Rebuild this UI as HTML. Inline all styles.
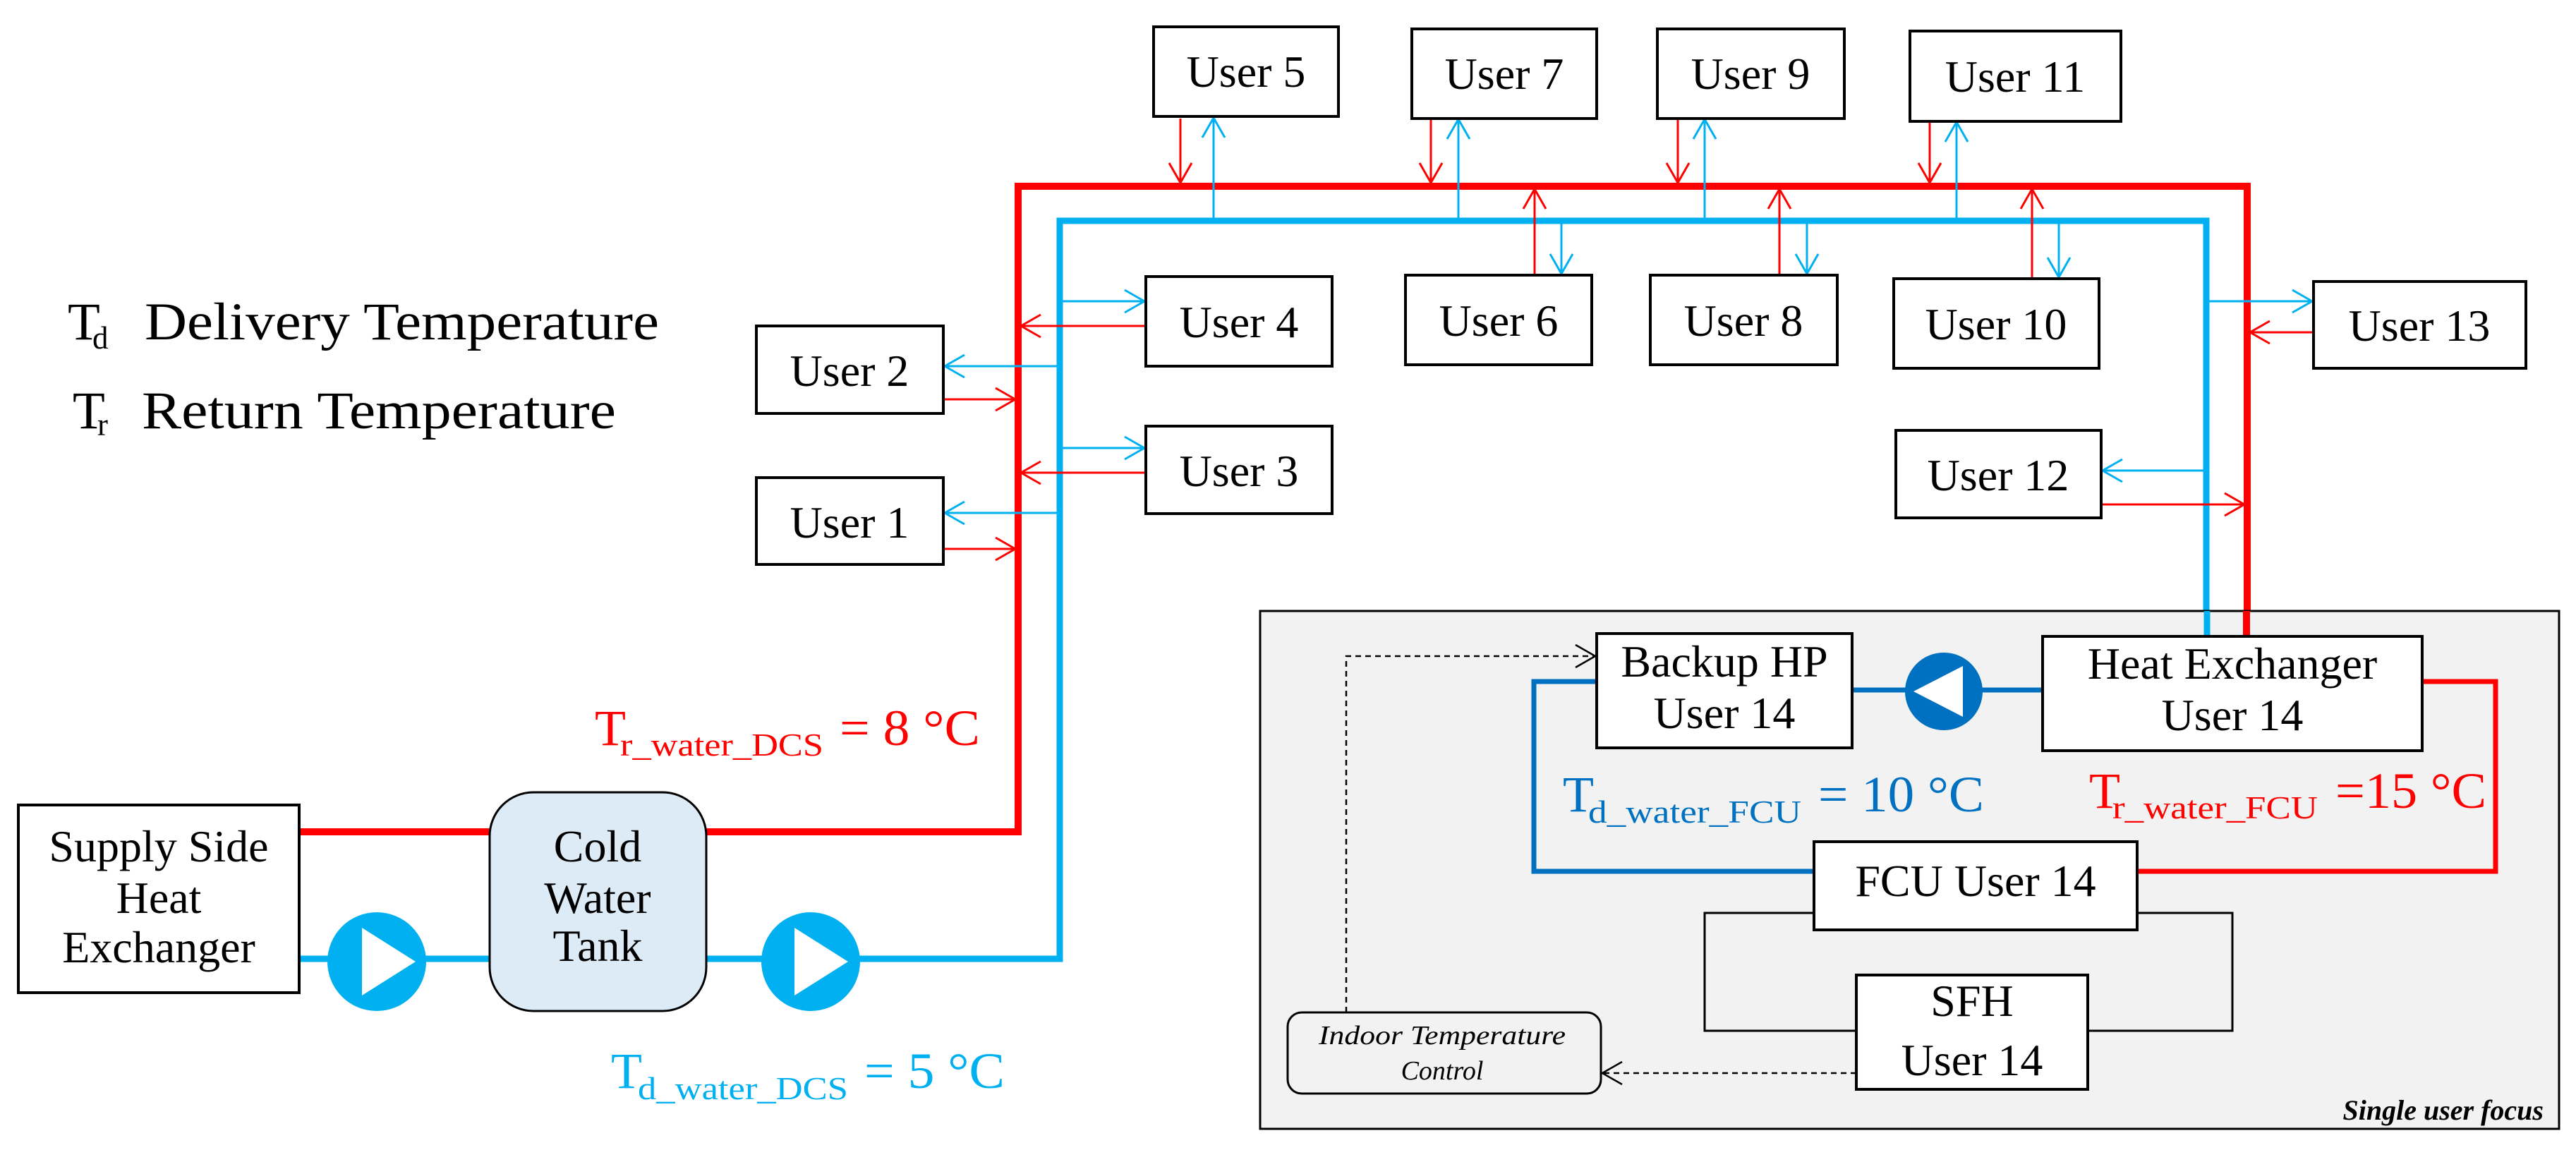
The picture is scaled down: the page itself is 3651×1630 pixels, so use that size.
<!DOCTYPE html>
<html><head><meta charset="utf-8"><style>
html,body{margin:0;padding:0;background:#fff}
svg{display:block}
text{font-family:"Liberation Serif",serif}
.bx{fill:#fff;stroke:#000;stroke-width:4}
.t{font-size:64px;text-anchor:middle;fill:#000}
</style></head><body>
<svg width="3651" height="1630" viewBox="0 0 3651 1630" xmlns="http://www.w3.org/2000/svg">
<defs>
<marker id="ar" markerUnits="userSpaceOnUse" markerWidth="32" markerHeight="36" viewBox="0 0 32 36" refX="29" refY="18" orient="auto"><path d="M1,2 L29,18 L1,34" fill="none" stroke="#ff0000" stroke-width="3"/></marker>
<marker id="ab" markerUnits="userSpaceOnUse" markerWidth="32" markerHeight="36" viewBox="0 0 32 36" refX="29" refY="18" orient="auto"><path d="M1,2 L29,18 L1,34" fill="none" stroke="#00b0f0" stroke-width="3"/></marker>
<marker id="ak" markerUnits="userSpaceOnUse" markerWidth="32" markerHeight="36" viewBox="0 0 32 36" refX="29" refY="18" orient="auto"><path d="M1,2 L29,18 L1,34" fill="none" stroke="#000" stroke-width="2.5"/></marker>
</defs>

<!-- legend -->
<text x="96" y="481" font-size="75">T</text><text x="131" y="494" font-size="45">d</text>
<text x="205" y="481" font-size="75" textLength="729" lengthAdjust="spacingAndGlyphs">Delivery Temperature</text>
<text x="103" y="607" font-size="75">T</text><text x="138" y="617" font-size="45">r</text>
<text x="201" y="607" font-size="75" textLength="672" lengthAdjust="spacingAndGlyphs">Return Temperature</text>

<!-- main pipes -->
<path d="M424,1179 H694 M1001,1179 H1443 V264 H3185 V902" fill="none" stroke="#ff0000" stroke-width="10"/>
<path d="M424,1359 H694 M1001,1359 H1502 V313 H3127 V902" fill="none" stroke="#00b0f0" stroke-width="9"/>

<!-- connectors -->
<g fill="none" stroke-width="3">
<path d="M1502,427 H1622" stroke="#00b0f0" marker-end="url(#ab)"/>
<path d="M1624,462 H1447" stroke="#ff0000" marker-end="url(#ar)"/>
<path d="M1502,635 H1622" stroke="#00b0f0" marker-end="url(#ab)"/>
<path d="M1624,670 H1447" stroke="#ff0000" marker-end="url(#ar)"/>
<path d="M1502,519 H1339" stroke="#00b0f0" marker-end="url(#ab)"/>
<path d="M1337,566 H1439" stroke="#ff0000" marker-end="url(#ar)"/>
<path d="M1502,727 H1339" stroke="#00b0f0" marker-end="url(#ab)"/>
<path d="M1337,778 H1439" stroke="#ff0000" marker-end="url(#ar)"/>

<path d="M1673,168 V259" stroke="#ff0000" marker-end="url(#ar)"/>
<path d="M1720,310 V167" stroke="#00b0f0" marker-end="url(#ab)"/>
<path d="M2028,170 V259" stroke="#ff0000" marker-end="url(#ar)"/>
<path d="M2067,310 V169" stroke="#00b0f0" marker-end="url(#ab)"/>
<path d="M2378,170 V259" stroke="#ff0000" marker-end="url(#ar)"/>
<path d="M2416,310 V169" stroke="#00b0f0" marker-end="url(#ab)"/>
<path d="M2735,174 V259" stroke="#ff0000" marker-end="url(#ar)"/>
<path d="M2773,310 V173" stroke="#00b0f0" marker-end="url(#ab)"/>

<path d="M2175,390 V268" stroke="#ff0000" marker-end="url(#ar)"/>
<path d="M2213,317 V388" stroke="#00b0f0" marker-end="url(#ab)"/>
<path d="M2522,390 V268" stroke="#ff0000" marker-end="url(#ar)"/>
<path d="M2561,317 V388" stroke="#00b0f0" marker-end="url(#ab)"/>
<path d="M2880,394 V268" stroke="#ff0000" marker-end="url(#ar)"/>
<path d="M2918,317 V393" stroke="#00b0f0" marker-end="url(#ab)"/>

<path d="M3127,427 H3277" stroke="#00b0f0" marker-end="url(#ab)"/>
<path d="M3279,471 H3189" stroke="#ff0000" marker-end="url(#ar)"/>
<path d="M3127,667 H2980" stroke="#00b0f0" marker-end="url(#ab)"/>
<path d="M2978,715 H3181" stroke="#ff0000" marker-end="url(#ar)"/>
</g>

<!-- user boxes -->
<rect class="bx" x="1635" y="38" width="262" height="127"/><text class="t" x="1766" y="123">User 5</text>
<rect class="bx" x="2001" y="41" width="262" height="127"/><text class="t" x="2132" y="126">User 7</text>
<rect class="bx" x="2349" y="41" width="265" height="127"/><text class="t" x="2481" y="126">User 9</text>
<rect class="bx" x="2707" y="44" width="299" height="128"/><text class="t" x="2856" y="130">User 11</text>
<rect class="bx" x="1624" y="392" width="264" height="127"/><text class="t" x="1756" y="478">User 4</text>
<rect class="bx" x="1624" y="604" width="264" height="124"/><text class="t" x="1756" y="689">User 3</text>
<rect class="bx" x="1072" y="462" width="265" height="124"/><text class="t" x="1204" y="547">User 2</text>
<rect class="bx" x="1072" y="677" width="265" height="123"/><text class="t" x="1204" y="762">User 1</text>
<rect class="bx" x="1992" y="390" width="264" height="127"/><text class="t" x="2124" y="476">User 6</text>
<rect class="bx" x="2339" y="390" width="265" height="127"/><text class="t" x="2471" y="476">User 8</text>
<rect class="bx" x="2684" y="395" width="291" height="127"/><text class="t" x="2829" y="481">User 10</text>
<rect class="bx" x="3279" y="399" width="301" height="123"/><text class="t" x="3429" y="483">User 13</text>
<rect class="bx" x="2687" y="610" width="291" height="124"/><text class="t" x="2832" y="695">User 12</text>

<!-- supply side -->
<rect class="bx" x="26" y="1141" width="398" height="266"/>
<text class="t" x="225" y="1221" font-size="60">Supply Side</text>
<text class="t" x="225" y="1294" font-size="60">Heat</text>
<text class="t" x="225" y="1364" font-size="60">Exchanger</text>
<rect x="694" y="1123" width="307" height="310" rx="62" ry="62" fill="#ddebf7" stroke="#000" stroke-width="3"/>
<text class="t" x="847" y="1221" font-size="60">Cold</text>
<text class="t" x="847" y="1294" font-size="60">Water</text>
<text class="t" x="847" y="1362" font-size="60">Tank</text>
<circle cx="534" cy="1363" r="70" fill="#00b0f0"/><path d="M513,1315 L513,1411 L589,1363 Z" fill="#fff"/>
<circle cx="1149" cy="1363" r="70" fill="#00b0f0"/><path d="M1126,1315 L1126,1411 L1202,1363 Z" fill="#fff"/>

<text x="843" y="1056" font-size="72" fill="#ff0000">T</text>
<text x="879" y="1071" font-size="46" fill="#ff0000" textLength="288" lengthAdjust="spacingAndGlyphs">r_water_DCS</text>
<text x="1190" y="1056" font-size="72" fill="#ff0000" textLength="199" lengthAdjust="spacingAndGlyphs">= 8 °C</text>
<text x="866" y="1542" font-size="72" fill="#00b0f0">T</text>
<text x="904" y="1558" font-size="46" fill="#00b0f0" textLength="298" lengthAdjust="spacingAndGlyphs">d_water_DCS</text>
<text x="1225" y="1542" font-size="72" fill="#00b0f0" textLength="199" lengthAdjust="spacingAndGlyphs">= 5 °C</text>

<!-- single user focus -->
<rect x="1786" y="866" width="1841" height="734" fill="#f2f2f2" stroke="#000" stroke-width="3"/>
<path d="M3128,866 V902" stroke="#00b0f0" stroke-width="9"/>
<path d="M3184,866 V902" stroke="#ff0000" stroke-width="10"/>
<path d="M2263,966 H2174 V1235 H2571 M2625,978 H2895" fill="none" stroke="#0070c0" stroke-width="7"/>
<path d="M3433,966 H3537 V1235 H3029" fill="none" stroke="#ff0000" stroke-width="7"/>
<path d="M2571,1294 H2416 V1461 H2631 M3029,1294 H3164 V1461 H2959" fill="none" stroke="#000" stroke-width="3"/>
<circle cx="2755" cy="980" r="55" fill="#0070c0"/><path d="M2712,980 L2782,944 L2782,1016 Z" fill="#fff"/>
<rect class="bx" x="2263" y="898" width="362" height="162"/>
<text class="t" x="2444" y="959" font-size="60">Backup HP</text><text class="t" x="2444" y="1032" font-size="60">User 14</text>
<rect class="bx" x="2895" y="902" width="538" height="162"/>
<text class="t" x="3164" y="962" font-size="60">Heat Exchanger</text><text class="t" x="3164" y="1035" font-size="60">User 14</text>
<rect class="bx" x="2571" y="1193" width="458" height="125"/>
<text class="t" x="2800" y="1270" font-size="60">FCU User 14</text>
<rect class="bx" x="2631" y="1382" width="328" height="162"/>
<text class="t" x="2795" y="1440" font-size="60">SFH</text><text class="t" x="2795" y="1524" font-size="60">User 14</text>
<rect x="1825" y="1435" width="444" height="115" rx="20" ry="20" fill="#f2f2f2" stroke="#000" stroke-width="3"/>
<text x="1869" y="1480" font-size="38" font-style="italic" textLength="350" lengthAdjust="spacingAndGlyphs">Indoor Temperature</text>
<text x="2044" y="1530" font-size="38" font-style="italic" text-anchor="middle">Control</text>
<path d="M1908,1435 V930 H2261" fill="none" stroke="#000" stroke-width="2.5" stroke-dasharray="8,6" marker-end="url(#ak)"/>
<path d="M2631,1521 H2271" fill="none" stroke="#000" stroke-width="2.5" stroke-dasharray="8,6" marker-end="url(#ak)"/>
<text x="3605" y="1587" font-size="40" font-style="italic" font-weight="bold" text-anchor="end">Single user focus</text>

<text x="2215" y="1150" font-size="72" fill="#0070c0">T</text>
<text x="2251" y="1166" font-size="46" fill="#0070c0" textLength="302" lengthAdjust="spacingAndGlyphs">d_water_FCU</text>
<text x="2577" y="1150" font-size="72" fill="#0070c0" textLength="235" lengthAdjust="spacingAndGlyphs">= 10 °C</text>
<text x="2961" y="1145" font-size="72" fill="#ff0000">T</text>
<text x="2994" y="1160" font-size="46" fill="#ff0000" textLength="291" lengthAdjust="spacingAndGlyphs">r_water_FCU</text>
<text x="3310" y="1145" font-size="72" fill="#ff0000" textLength="214" lengthAdjust="spacingAndGlyphs">=15 °C</text>
</svg>
</body></html>
